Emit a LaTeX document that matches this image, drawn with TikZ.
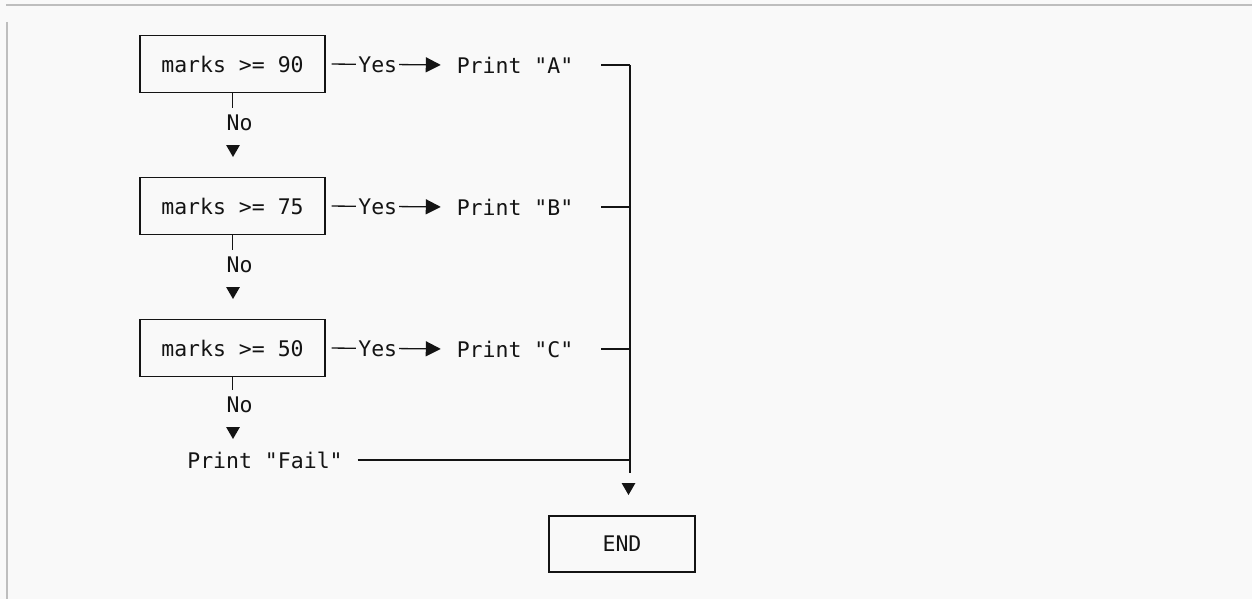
\documentclass[tikz,border=0pt]{standalone}
\usepackage{fontspec}
\setmonofont{DejaVu Sans Mono}
\usepackage{tikz}
\usetikzlibrary{arrows.meta,shapes.geometric}

\definecolor{bg}{HTML}{F9F9F9}
\definecolor{ink}{HTML}{141414}
\definecolor{rule}{HTML}{BEBEBE}

\begin{document}
\begin{tikzpicture}[x=1pt,y=-1pt, line width=1.3pt, ink,
    every node/.style={font=\ttfamily\fontsize{21.5}{24}\selectfont, text=ink},
    test/.style={draw, minimum width=185pt, minimum height=57pt},
    tri/.style={regular polygon, regular polygon sides=3, shape border rotate=180,
      fill=ink, inner sep=0pt, minimum size=16pt},
    yes/.style={-{Triangle[length=15pt,width=15pt]}, shorten <=6pt, shorten >=12pt}]
      \useasboundingbox (0,0) rectangle (1252,599);
      \fill[bg] (0,0) rectangle (1252,599);
      \draw[rule] (6,5) -- (1252,5);
      \draw[rule, line width=1.6pt] (7,22) -- (7,599);

      % the three tests, one under the other
      \node[test] (m90) at (232.5,64) {marks >= 90};
      \node[test] (m75) at (232.5,206) {marks >= 75};
      \node[test] (m50) at (232.5,348) {marks >= 50};

      \node (pA) at (515,65) {Print "A"};
      \node (pB) at (515,207) {Print "B"};
      \node (pC) at (515,349) {Print "C"};
      \node (fail) at (265,460) {Print "Fail"};
      \node[draw, minimum width=146pt, minimum height=56pt] (endbox) at (622,544) {END};

      % yes branches
      \draw[yes] (m90.east) -- node[pos=0.41, fill=bg, inner sep=2pt] {Yes} (pA.west);
      \draw[yes] (m75.east) -- node[pos=0.41, fill=bg, inner sep=2pt] {Yes} (pB.west);
      \draw[yes] (m50.east) -- node[pos=0.41, fill=bg, inner sep=2pt] {Yes} (pC.west);

      % no branches
      \node (no1) at (239.5,123) {No};
      \node (no2) at (239.5,265) {No};
      \node (no3) at (239.5,405) {No};
      \draw[shorten >=3pt] (m90.south) -- (m90.south |- no1.north);
      \draw[shorten >=3pt] (m75.south) -- (m75.south |- no2.north);
      \draw[shorten >=3pt] (m50.south) -- (m50.south |- no3.north);
      \node[tri] (d1) at (233,149) {};
      \node[tri] (d2) at (233,291) {};
      \node[tri] (d3) at (233,431) {};

      % collecting line on the right
      \coordinate (jA) at (630,65);
      \coordinate (jB) at (630,207);
      \coordinate (jC) at (630,349);
      \coordinate (jE) at (630,473);
      \draw (jA) -- (jE);
      \draw[shorten <=24pt] (pA.east) -- (jA);
      \draw[shorten <=24pt] (pB.east) -- (jB);
      \draw[shorten <=24pt] (pC.east) -- (jC);
      \draw[shorten <=11pt] (fail.east) -- (fail.east -| jA);
      \node[tri] (dE) at (628.5,487) {};
    \end{tikzpicture}
\end{document}
